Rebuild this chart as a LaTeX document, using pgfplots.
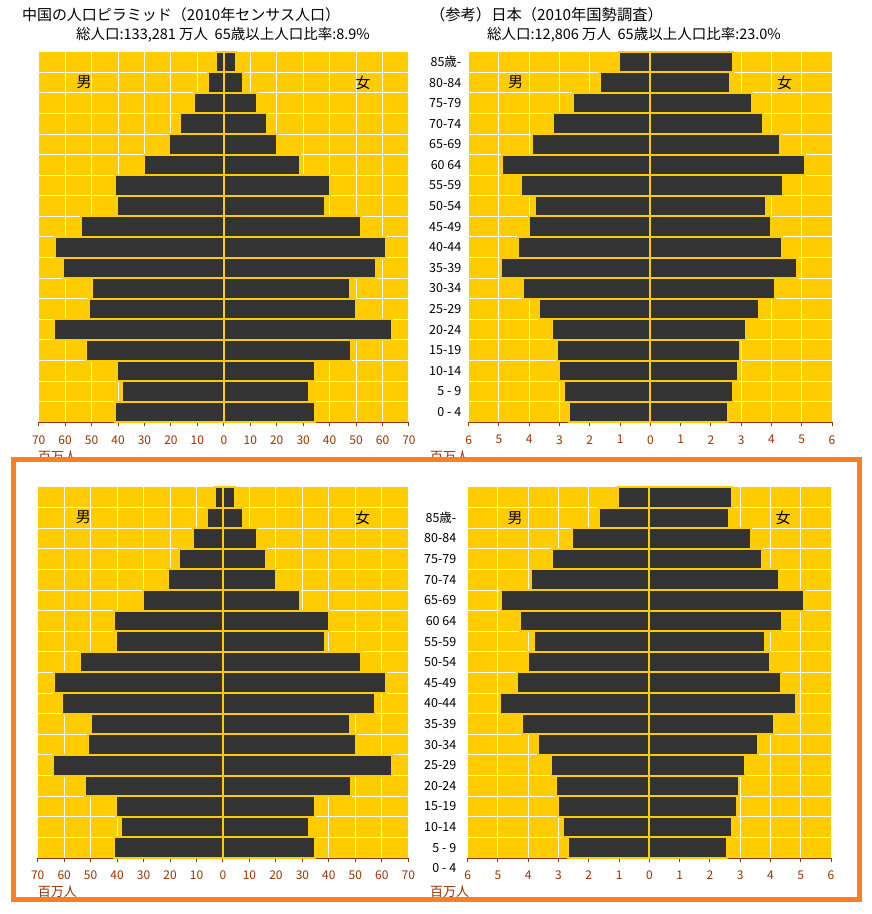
\documentclass[border=0pt]{standalone}
\usepackage{pgfplots}
\pgfplotsset{compat=1.18}
\usepackage{pgfplotstable}
\usepackage{fontspec}
\setmainfont{Noto Sans CJK JP}

\definecolor{pyrbg}{HTML}{FFCC00}
\definecolor{pyrbar}{HTML}{333333}
\definecolor{pyraxis}{HTML}{993300}
\definecolor{framecol}{RGB}{250,128,38}

% China, 2010 census (million people); idx 0 = 0-4 ... 17 = 85+
\pgfplotstableread{
idx male female
0  41.3 34.6
1  38.6 32.3
2  40.5 34.6
3  52.2 48.2
4  64.3 63.7
5  51.1 50.1
6  49.9 47.8
7  60.9 57.6
8  63.9 61.4
9  54.1 52.0
10 40.5 38.4
11 41.3 40.2
12 30.3 28.9
13 20.8 20.2
14 16.7 16.4
15 11.4 12.7
16 6.1  7.4
17 3.0  4.7
}\chinatab

% Japan, 2010 census (million people)
\pgfplotstableread{
idx male female
0  2.70 2.58
1  2.86 2.74
2  3.03 2.91
3  3.09 2.97
4  3.26 3.17
5  3.69 3.60
6  4.22 4.13
7  4.94 4.85
8  4.38 4.36
9  4.02 4.00
10 3.82 3.83
11 4.28 4.39
12 4.91 5.12
13 3.92 4.29
14 3.22 3.73
15 2.56 3.37
16 1.67 2.64
17 1.05 2.74
}\japantab

\pgfplotsset{
  pyramid/.style={
    scale only axis, anchor=south west,
    height=370.6pt,
    ymin=-0.5, ymax=17.5,
    axis background/.style={fill=pyrbg},
    axis x line*=bottom, axis y line*=left,
    y axis line style={draw=none},
    x axis line style={draw=pyraxis, line width=1pt, -},
    ytick={0.5,1.5,...,16.5}, ytick style={draw=none},
    yticklabel style={opacity=0},
    xmajorgrids, ymajorgrids,
    major grid style={white, line width=1pt},
    xtick align=outside, major tick length=4pt,
    xtick style={draw=pyraxis, line width=1pt},
    xticklabel style={text=pyraxis, yshift=-5.5pt, font=\fontsize{12}{13}\selectfont},
    /pgf/number format/assume math mode=true,
  },
  chinaaxis/.style={pyramid, xmin=-70, xmax=70,
    xtick={-70,-60,...,70},
    xticklabels={70,60,50,40,30,20,10,0,10,20,30,40,50,60,70}},
  japanaxis/.style={pyramid, xmin=-6, xmax=6,
    xtick={-6,-5,...,6},
    xticklabels={6,5,4,3,2,1,0,1,2,3,4,5,6}},
  pyrbar/.style={xbar, bar width=1, bar shift=0pt, fill=pyrbar,
    draw=pyrbg, line width=2pt},
  centerline/.style={pyrbg, line width=1pt},
}

\newcommand{\agelabels}[3]{% x of right edge, y of row 0 centre, row height
  \foreach \lab [count=\i from 0] in {0 - 4\hspace{4.5pt}, 5 - 9\hspace{4.5pt},
      10-14, 15-19, 20-24, 25-29, 30-34, 35-39, 40-44, 45-49, 50-54,
      55-59, 60 64, 65-69, 70-74, 75-79, 80-84, 85歳-}
    \node[anchor=east, inner sep=0pt, font=\fontsize{12.5}{13}\selectfont]
      at (#1, {#2+#3*\i}) {\lab};}

\begin{document}
\begin{tikzpicture}[x=1pt, y=1pt]
\fill[white] (0,0) rectangle (872,914);
\path[use as bounding box] (0,0) rectangle (872,914);

% ---- titles ----
\node[font=\fontsize{15}{16}\selectfont] at (181,899) {中国の人口ピラミッド（2010年センサス人口）};
\node[font=\fontsize{14.5}{15}\selectfont] at (223,879) {総人口:133,281 万人\ \ 65歳以上人口比率:8.9\%};
\node[font=\fontsize{15.3}{16}\selectfont] at (546.5,899) {（参考）日本（2010年国勢調査）};
\node[font=\fontsize{14.5}{15}\selectfont] at (634,879) {総人口:12,806 万人\ \ 65歳以上人口比率:23.0\%};

% ---- upper pyramids ----
\begin{axis}[chinaaxis, at={(38.7pt,491.7pt)}, width=370.3pt]
\addplot[pyrbar] table[x expr=-\thisrow{male}, y=idx] {\chinatab};
\addplot[pyrbar] table[x=female, y=idx] {\chinatab};
\addplot[centerline] coordinates {(0,-0.5) (0,17.5)};
\end{axis}
\begin{axis}[japanaxis, at={(468.7pt,491.7pt)}, width=363.3pt]
\addplot[pyrbar] table[x expr=-\thisrow{male}, y=idx] {\japantab};
\addplot[pyrbar] table[x=female, y=idx] {\japantab};
\addplot[centerline] coordinates {(0,-0.5) (0,17.5)};
\end{axis}
\agelabels{461.5}{502.0}{20.589}

\node[font=\fontsize{15}{16}\selectfont] at (84,831.3) {男};
\node[font=\fontsize{15}{16}\selectfont] at (363,831) {女};
\node[font=\fontsize{15}{16}\selectfont] at (515.7,831.3) {男};
\node[font=\fontsize{15}{16}\selectfont] at (784.7,831) {女};
\node[anchor=west, inner sep=0pt, text=pyraxis, font=\fontsize{13}{14}\selectfont] at (38,457.5) {百万人};
\node[anchor=west, inner sep=0pt, text=pyraxis, font=\fontsize{13}{14}\selectfont] at (430,457.5) {百万人};

% ---- framed panel ----
\fill[white] (16,17.3) rectangle (856.7,452.5);

\begin{axis}[chinaaxis, at={(37.7pt,56pt)}, width=370.6pt, height=371pt]
\addplot[pyrbar] table[x expr=-\thisrow{male}, y=idx] {\chinatab};
\addplot[pyrbar] table[x=female, y=idx] {\chinatab};
\addplot[centerline] coordinates {(0,-0.5) (0,17.5)};
\end{axis}
\begin{axis}[japanaxis, at={(467.7pt,56pt)}, width=363.3pt, height=371pt]
\addplot[pyrbar] table[x expr=-\thisrow{male}, y=idx] {\japantab};
\addplot[pyrbar] table[x=female, y=idx] {\japantab};
\addplot[centerline] coordinates {(0,-0.5) (0,17.5)};
\end{axis}
\agelabels{456.5}{45.7}{20.611}

\node[font=\fontsize{15}{16}\selectfont] at (83.3,396.3) {男};
\node[font=\fontsize{15}{16}\selectfont] at (362.7,396.3) {女};
\node[font=\fontsize{15}{16}\selectfont] at (515,396) {男};
\node[font=\fontsize{15}{16}\selectfont] at (783,396) {女};
\node[anchor=west, inner sep=0pt, text=pyraxis, font=\fontsize{13}{14}\selectfont] at (37.7,22.5) {百万人};
\node[anchor=west, inner sep=0pt, text=pyraxis, font=\fontsize{13}{14}\selectfont] at (430,22.5) {百万人};

\draw[framecol, line width=5pt] (13.5,14.8) rectangle (859.2,454.7);
\end{tikzpicture}
\end{document}
